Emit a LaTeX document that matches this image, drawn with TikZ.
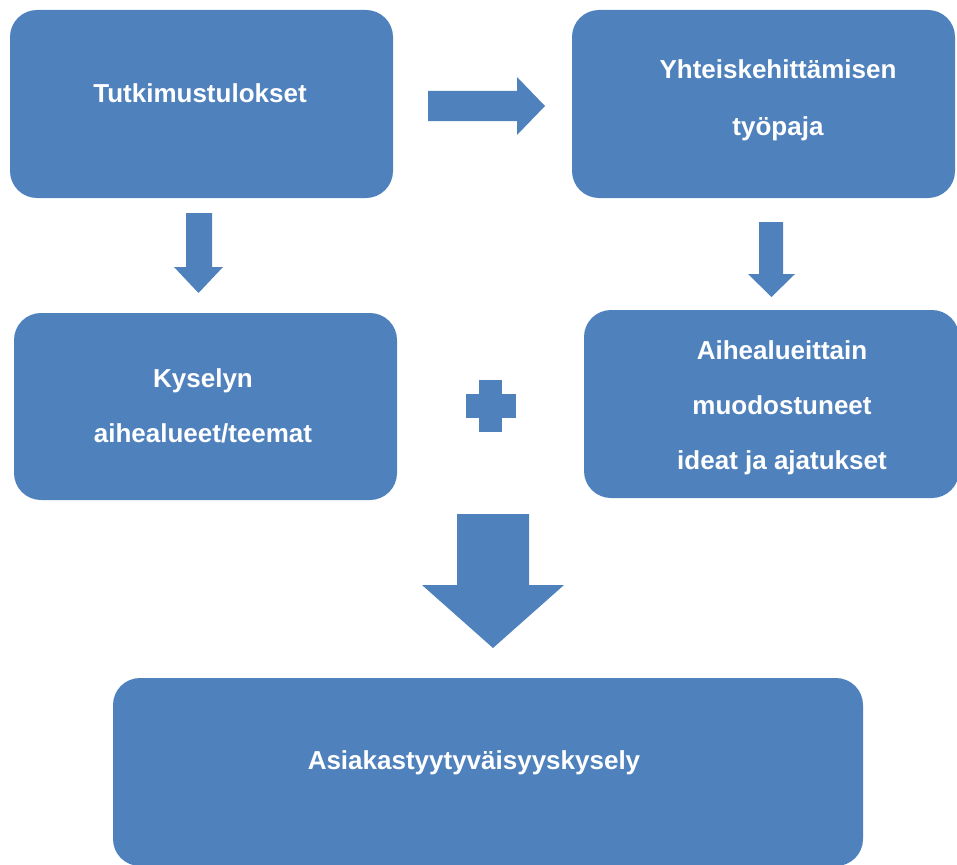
\documentclass[tikz,border=0pt]{standalone}
\usepackage{fontspec}
\setmainfont{Liberation Sans}
\usepackage{tikz}
\usetikzlibrary{positioning}
\definecolor{boxblue}{HTML}{4F81BD}

\begin{document}
\begin{tikzpicture}[x=1pt, y=-1pt,
    box/.style={rectangle, rounded corners=27pt, fill=boxblue, draw=none, inner sep=0pt},
    txt/.style={text=white, font=\fontsize{26}{55}\selectfont\bfseries, align=center},
    blockarr/.style={fill=boxblue}]
  \useasboundingbox (0,0) rectangle (957,864);
  % boxes
  \node[box, minimum width=383pt, minimum height=188pt] (tulos)   at (201.5,104) {};
  \node[box, minimum width=383pt, minimum height=188pt] (paja)    at (763.5,104) {};
  \node[box, minimum width=383pt, minimum height=187pt] (teemat)  at (205.5,406.5) {};
  \node[box, minimum width=375pt, minimum height=188pt] (ideat)   at (771.5,404) {};
  \node[box, minimum width=750pt, minimum height=188pt] (kysely)  at (488,772) {};
  % texts
  \node[txt] (t_tulos)  at (200,93)  {Tutkimustulokset};
  \node[txt, font=\fontsize{26}{57}\selectfont\bfseries] (t_paja) at (778,100) {Yhteiskehittämisen\\työpaja};
  \node[txt] (t_teemat) at (203,406) {Kyselyn\\aihealueet/teemat};
  \node[txt] (t_ideat)  at (782,408) {Aihealueittain\\muodostuneet\\ideat ja ajatukset};
  \node[txt] (t_kysely) at (474,763) {Asiakastyytyväisyyskysely};
  % block arrows
  \fill[blockarr] (428,91) -- (517,91) -- (517,77) -- (545,106) -- (517,135)
    -- (517,121) -- (428,121) -- cycle;
  \fill[blockarr] (186,213) -- (212,213) -- (212,267) -- (223,267) -- (198.5,293)
    -- (174,267) -- (186,267) -- cycle;
  \fill[blockarr] (759,222) -- (783,222) -- (783,274) -- (795,274) -- (771.5,297)
    -- (748,274) -- (759,274) -- cycle;
  \fill[blockarr] (457,514) -- (529,514) -- (529,585) -- (564,585) -- (493,648)
    -- (422,585) -- (457,585) -- cycle;
  % plus
  \fill[blockarr] (479,380) rectangle (502,432);
  \fill[blockarr] (466,394) rectangle (516,418);
\end{tikzpicture}
\end{document}
